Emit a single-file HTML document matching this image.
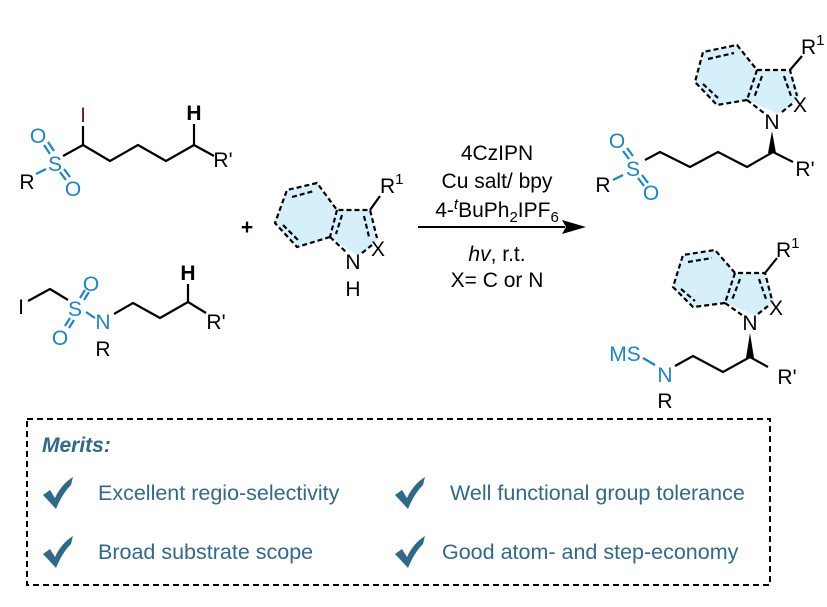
<!DOCTYPE html>
<html><head><meta charset="utf-8"><style>
html,body{margin:0;padding:0;background:#fff;}
svg{display:block;font-family:"Liberation Sans",Arial,sans-serif;}
</style></head><body>
<svg width="827" height="607" viewBox="0 0 827 607" xmlns="http://www.w3.org/2000/svg">
<defs>
<path id="chk" d="M0,18 L7,13 L12,21 C16,12 22,5 30,0 L28,8 C22,14 17,22 13,32 Z" fill="#2f6a8c"/>
</defs>
<g stroke="#000" stroke-width="2.2" fill="none" stroke-linejoin="round">
<polyline points="63,156 83,145 110,161 138,145 166,161 194,145 214,156"/>
<line x1="83" y1="145" x2="83" y2="126"/>
<line x1="194" y1="145" x2="194" y2="124"/>
<g stroke="#1a86c8">
<line x1="36" y1="174" x2="46" y2="169"/>
<line x1="44" y1="145" x2="50" y2="154"/><line x1="48" y1="142" x2="54" y2="151"/>
<line x1="60" y1="172" x2="66" y2="180"/><line x1="64" y1="169" x2="70" y2="177"/>
</g>
<polyline points="28,301 50,289 68,300"/>
<polyline points="114,314 133,303 160,318 188,302 206,313"/>
<line x1="188" y1="302" x2="188" y2="284"/>
<g stroke="#1a86c8">
<line x1="86" y1="312" x2="95" y2="318"/>
<line x1="80" y1="298" x2="85" y2="290"/><line x1="84" y1="300" x2="89" y2="292"/>
<line x1="65" y1="326" x2="70" y2="318"/><line x1="69" y1="328" x2="74" y2="320"/>
</g>
</g>
<g font-size="21">
<text x="83" y="122" text-anchor="middle" fill="#7a1040">I</text>
<text x="194" y="120" text-anchor="middle" font-weight="bold">H</text>
<text x="55" y="171" text-anchor="middle" fill="#1a86c8">S</text>
<text x="38" y="143" text-anchor="middle" fill="#1a86c8">O</text>
<text x="73" y="196" text-anchor="middle" fill="#1a86c8">O</text>
<text x="27" y="189" text-anchor="middle">R</text>
<text x="223" y="167" text-anchor="middle">R'</text>
<text x="21" y="314" text-anchor="middle">I</text>
<text x="75" y="316" text-anchor="middle" fill="#1a86c8">S</text>
<text x="91" y="291" text-anchor="middle" fill="#1a86c8">O</text>
<text x="60" y="345" text-anchor="middle" fill="#1a86c8">O</text>
<text x="103" y="329" text-anchor="middle" fill="#1a86c8">N</text>
<text x="103" y="356" text-anchor="middle">R</text>
<text x="188" y="280" text-anchor="middle" font-weight="bold">H</text>
<text x="216" y="329" text-anchor="middle">R'</text>
<text x="247" y="234" text-anchor="middle" font-weight="bold">+</text>
</g>

<g stroke="#000" stroke-width="2.2" fill="none" stroke-dasharray="5,3">
<polygon points="287,190 317,183 337,210 370,210 377,240 358,256 330,237 297,247 275,223" fill="#d6f0fb" stroke="none"/>
<polyline points="330,237 297,247 275,223 287,190 317,183 337,210 370,210 377,238"/>
<line x1="337" y1="210" x2="330" y2="237"/>
<line x1="330" y1="237" x2="346" y2="252"/>
<line x1="362" y1="253" x2="372" y2="245"/>
<line x1="292" y1="197" x2="314" y2="191"/>
<line x1="283" y1="225" x2="298" y2="240"/>
<line x1="342" y1="215" x2="336" y2="234"/>
<line x1="364" y1="216" x2="369" y2="237"/>
</g>
<line x1="370" y1="210" x2="380" y2="196" stroke="#000" stroke-width="2.2"/>
<g font-size="21">
<text x="378" y="256" text-anchor="middle">X</text>
<text x="353" y="269" text-anchor="middle">N</text>
<text x="353" y="296" text-anchor="middle">H</text>
<text x="380" y="193">R<tspan font-size="15" dy="-9">1</tspan></text>
</g>

<line x1="418" y1="227" x2="565" y2="227" stroke="#000" stroke-width="2"/>
<polygon points="586,227 562,220 566,227 562,234" fill="#000"/>
<g font-size="21" text-anchor="middle">
<text x="497" y="160">4CzIPN</text>
<text x="497" y="188">Cu salt/ bpy</text>
<text x="497" y="217">4-<tspan font-style="italic" font-size="15" dy="-8">t</tspan><tspan dy="8">BuPh</tspan><tspan font-size="15" dy="5">2</tspan><tspan dy="-5">IPF</tspan><tspan font-size="15" dy="5">6</tspan></text>
<text x="497" y="261"><tspan font-style="italic">hv</tspan>, r.t.</text>
<text x="497" y="287">X= C or N</text>
</g>

<g stroke="#000" stroke-width="2.2" fill="none" stroke-dasharray="5,3">
<polygon points="703,52 737,45 757,70 790,70 800,96 778,114 747,100 717,105 695,82" fill="#d6f0fb" stroke="none"/>
<polyline points="747,100 717,105 695,82 703,52 737,45 757,70 790,70 797,96"/>
<line x1="757" y1="70" x2="747" y2="100"/>
<line x1="747" y1="100" x2="764" y2="113"/>
<line x1="782" y1="112" x2="793" y2="103"/>
<line x1="708" y1="59" x2="734" y2="53"/>
<line x1="703" y1="84" x2="718" y2="98"/>
<line x1="762" y1="76" x2="754" y2="98"/>
<line x1="784" y1="76" x2="791" y2="96"/>
</g>
<g stroke="#000" stroke-width="2.2" fill="none">
<line x1="790" y1="70" x2="802" y2="56"/>
<polyline points="645,160 660,152 690,167 718,152 747,167 773,152 793,162"/>
<g stroke="#1a86c8">
<line x1="613" y1="180" x2="623" y2="175"/>
<line x1="623" y1="151" x2="629" y2="159"/><line x1="627" y1="148" x2="633" y2="156"/>
<line x1="638" y1="178" x2="644" y2="186"/><line x1="642" y1="175" x2="648" y2="183"/>
</g>
</g>
<polygon points="772,131 768,153 776,153" fill="#000"/>
<g font-size="21">
<text x="800" y="112" text-anchor="middle">X</text>
<text x="772" y="129" text-anchor="middle">N</text>
<text x="801" y="54">R<tspan font-size="15" dy="-9">1</tspan></text>
<text x="633" y="176" text-anchor="middle" fill="#1a86c8">S</text>
<text x="617" y="148" text-anchor="middle" fill="#1a86c8">O</text>
<text x="651" y="200" text-anchor="middle" fill="#1a86c8">O</text>
<text x="603" y="192" text-anchor="middle">R</text>
<text x="805" y="176" text-anchor="middle">R'</text>
</g>

<g stroke="#000" stroke-width="2.2" fill="none" stroke-dasharray="5,3">
<polygon points="683,255 715,250 735,273 765,273 775,302 755,315 725,303 693,307 673,287" fill="#d6f0fb" stroke="none"/>
<polyline points="725,303 693,307 673,287 683,255 715,250 735,273 765,273 772,300"/>
<line x1="735" y1="273" x2="725" y2="303"/>
<line x1="725" y1="303" x2="742" y2="315"/>
<line x1="758" y1="314" x2="768" y2="306"/>
<line x1="688" y1="262" x2="712" y2="258"/>
<line x1="681" y1="289" x2="695" y2="301"/>
<line x1="740" y1="279" x2="732" y2="300"/>
<line x1="759" y1="279" x2="766" y2="299"/>
</g>
<g stroke="#000" stroke-width="2.2" fill="none">
<line x1="765" y1="273" x2="777" y2="258"/>
<polyline points="675,366 693,356 723,372 750,357 768,367"/>
<line x1="643" y1="358" x2="655" y2="365" stroke="#1a86c8"/>
</g>
<polygon points="750,333 746,358 754,358" fill="#000"/>
<g font-size="21">
<text x="776" y="315" text-anchor="middle">X</text>
<text x="750" y="330" text-anchor="middle">N</text>
<text x="776" y="257">R<tspan font-size="15" dy="-9">1</tspan></text>
<text x="625" y="361" text-anchor="middle" fill="#1a86c8">MS</text>
<text x="665" y="382" text-anchor="middle" fill="#1a86c8">N</text>
<text x="665" y="408" text-anchor="middle">R</text>
<text x="787" y="384" text-anchor="middle">R'</text>
</g>

<rect x="27" y="419" width="743" height="166" fill="none" stroke="#000" stroke-width="2" stroke-dasharray="6,4"/>
<text x="42" y="452" font-size="21" font-weight="bold" font-style="italic" fill="#2f6a8c">Merits:</text>
<use href="#chk" x="43" y="477"/>
<use href="#chk" x="43" y="536"/>
<use href="#chk" x="395" y="477"/>
<use href="#chk" x="395" y="536"/>
<g font-size="21.5" fill="#2f6a8c">
<text x="98" y="500">Excellent regio-selectivity</text>
<text x="98" y="559">Broad substrate scope</text>
<text x="450" y="500">Well functional group tolerance</text>
<text x="442" y="559">Good atom- and step-economy</text>
</g>
</svg>
</body></html>
